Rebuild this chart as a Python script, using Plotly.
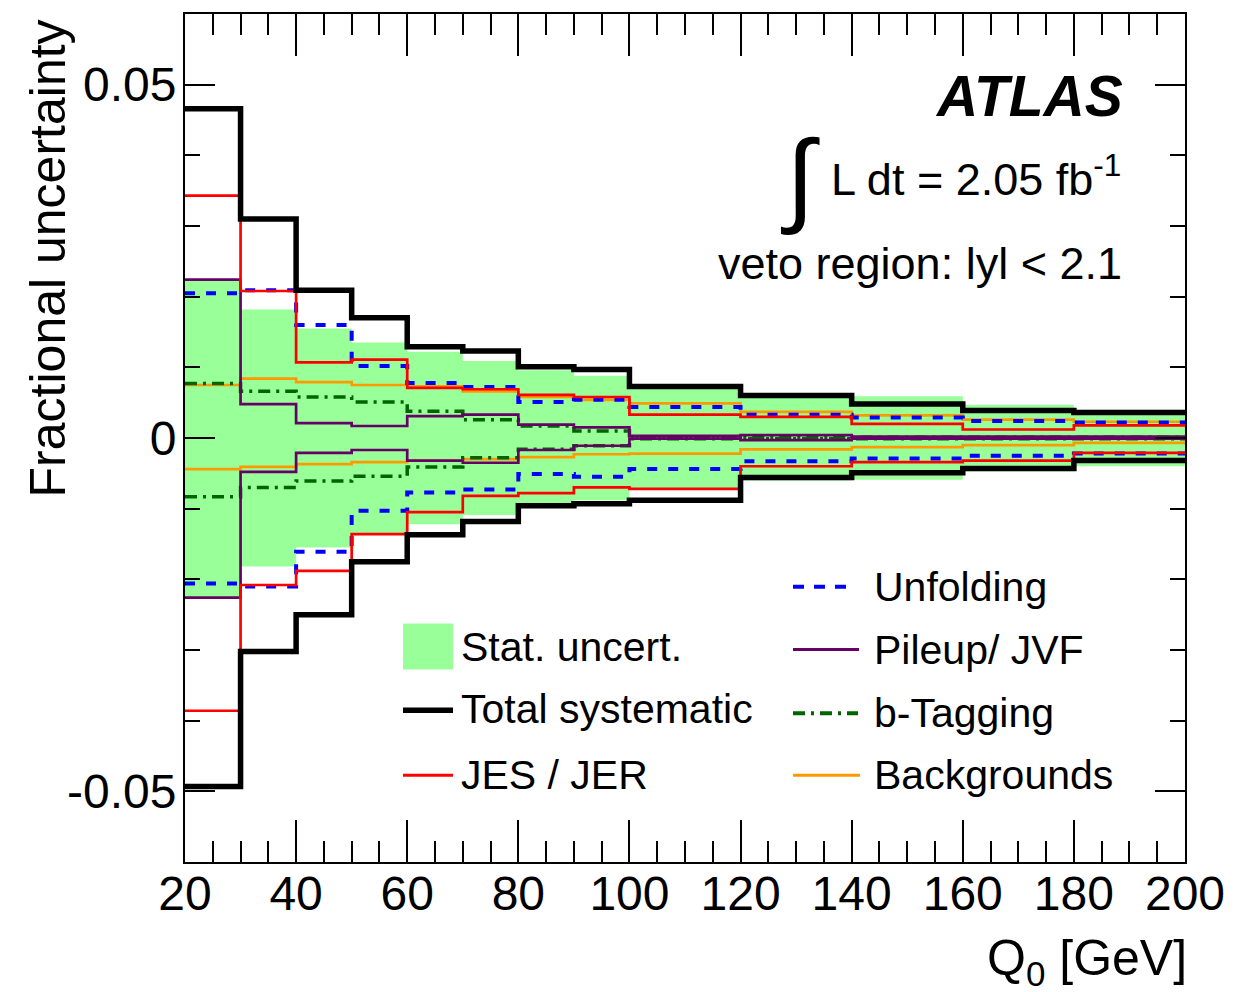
import plotly.graph_objects as go

# ---------------- data ----------------
edges = [20, 30, 40, 50, 60, 70, 80, 90, 100, 120, 140, 160, 180, 200]

stat = [0.0225, 0.0182, 0.0155, 0.0135, 0.0122, 0.0109, 0.0096, 0.0088, 0.0073, 0.0060, 0.0059, 0.0047, 0.0040]

total_up = [0.0466, 0.0310, 0.0209, 0.0170, 0.0129, 0.0123, 0.0101, 0.0097, 0.0073, 0.0060, 0.0048, 0.0039, 0.0036]
total_dn = [-0.0493, -0.0302, -0.0250, -0.0175, -0.0137, -0.0118, -0.0096, -0.0093, -0.0088, -0.0056, -0.0049, -0.0043, -0.0032]

jes_up = [0.0343, 0.0208, 0.0107, 0.0111, 0.0071, 0.0069, 0.0061, 0.0058, 0.0033, 0.0030, 0.0020, 0.0012, 0.0018]
jes_dn = [-0.0386, -0.0208, -0.0188, -0.0136, -0.0105, -0.0082, -0.0078, -0.0070, -0.0072, -0.0040, -0.0034, -0.0032, -0.0021]

unf_up = [0.0205, 0.0209, 0.0160, 0.0102, 0.0078, 0.0072, 0.0051, 0.0054, 0.0044, 0.0033, 0.0029, 0.0024, 0.0022]
unf_dn = [-0.0206, -0.0210, -0.0161, -0.0103, -0.0077, -0.0073, -0.0051, -0.0055, -0.0044, -0.0033, -0.0029, -0.0025, -0.0022]

pu_up = [0.0224, 0.0048, 0.0021, 0.0017, 0.0031, 0.0033, 0.0019, 0.0015, 0.0003, 0.0004, 0.0002, 0.0002, 0.0002]
pu_dn = [-0.0226, -0.0048, -0.0021, -0.0017, -0.0032, -0.0035, -0.0017, -0.0011, -0.0001, -0.0003, -0.0001, -0.0001, -0.0001]

btag_up = [0.0077, 0.0066, 0.0058, 0.0051, 0.0038, 0.0026, 0.0017, 0.0010, 0.0001, 0.0001, 0.0001, 0.0001, 0.0001]
btag_dn = [-0.0083, -0.0070, -0.0061, -0.0054, -0.0041, -0.0028, -0.0016, -0.0011, -0.0001, -0.0001, -0.0001, -0.0001, -0.0001]

bkg_up = [0.0075, 0.0084, 0.0079, 0.0075, 0.0073, 0.0066, 0.0058, 0.0054, 0.0049, 0.0037, 0.0032, 0.0026, 0.0023]
bkg_dn = [-0.0044, -0.0041, -0.0037, -0.0034, -0.0032, -0.0030, -0.0027, -0.0023, -0.0022, -0.0016, -0.0013, -0.0010, -0.0007]

ytick_vals = [-0.05, 0, 0.05]
ytick_text = ["-0.05", "0", "0.05"]

FONT = "Liberation Sans, Arial, Helvetica, sans-serif"

# ---------------- figure ----------------
W, H = 1254, 992
L, R, T, B = 185, 69, 12, 130
PW, PH = W - L - R, H - T - B


def px_x(px):
    return (px - L) / PW


def px_y(py):
    return (H - B - py) / PH


def step(vals):
    return list(vals) + [vals[-1]]


fig = go.Figure()

# stat band
fig.add_trace(go.Scatter(x=edges, y=step([-s for s in stat]), mode="lines",
                         line=dict(width=0, shape="hv"), showlegend=False,
                         hoverinfo="skip"))
fig.add_trace(go.Scatter(x=edges, y=step(stat), mode="lines",
                         line=dict(width=0, shape="hv"), fill="tonexty",
                         fillcolor="#99ff99", showlegend=False,
                         name="Stat. uncert."))

series = [
    ("Backgrounds", bkg_up, bkg_dn, "#ff9900", 2.7, "solid"),
    ("b-Tagging", btag_up, btag_dn, "#006400", 3.5, "12px,6px,3px,6px"),
    ("Pileup/ JVF", pu_up, pu_dn, "#660066", 2.7, "solid"),
    ("Unfolding", unf_up, unf_dn, "#0000ff", 4, "10px,11px"),
    ("JES / JER", jes_up, jes_dn, "#ff0000", 2.7, "solid"),
    ("Total systematic", total_up, total_dn, "#000000", 5.5, "solid"),
]
for name, up, dn, col, w, dash in series:
    for vals in (up, dn):
        fig.add_trace(go.Scatter(x=edges, y=step(vals), mode="lines",
                                 line=dict(color=col, width=w, dash=dash, shape="hv"),
                                 showlegend=False, name=name))

# ---------------- legend (drawn manually) ----------------
shapes = []
shapes.append(dict(type="rect", xref="paper", yref="paper",
                   x0=px_x(403), x1=px_x(453), y0=px_y(669), y1=px_y(623),
                   fillcolor="#99ff99", line=dict(width=0)))
leg_lines = [
    (403, 453, 710, "#000000", 5.5, "solid"),
    (403, 453, 775, "#ff0000", 3, "solid"),
    (793, 850, 586, "#0000ff", 4, "11px,10px"),
    (793, 859, 649, "#660066", 3, "solid"),
    (793, 858, 713, "#006400", 4, "12px,6px,3px,6px"),
    (793, 860, 775, "#ff9900", 3, "solid"),
]
for x0, x1, y, col, w, dash in leg_lines:
    shapes.append(dict(type="line", xref="paper", yref="paper",
                       x0=px_x(x0), x1=px_x(x1), y0=px_y(y), y1=px_y(y),
                       line=dict(color=col, width=w, dash=dash)))

annotations = []
leg_texts = [
    (459, 646, "Stat. uncert."),
    (459, 709, "Total systematic"),
    (459, 775, "JES / JER"),
    (872, 586, "Unfolding"),
    (872, 649, "Pileup/ JVF"),
    (872, 713, "b-Tagging"),
    (872, 775, "Backgrounds"),
]
for x, y, t in leg_texts:
    annotations.append(dict(text=t, xref="paper", yref="paper", x=px_x(x), y=px_y(y),
                            xanchor="left", yanchor="middle", showarrow=False,
                            font=dict(family=FONT, size=41, color="black")))

# ATLAS label and info
annotations.append(dict(text="<b><i>ATLAS</i></b>", xref="paper", yref="paper",
                        x=px_x(1125), y=px_y(94), xanchor="right", yanchor="middle",
                        showarrow=False, font=dict(family=FONT, size=57, color="black")))
annotations.append(dict(text="∫", xref="paper", yref="paper",
                        x=px_x(800), y=px_y(176), xanchor="center", yanchor="middle",
                        showarrow=False, font=dict(family=FONT, size=104, color="black")))
annotations.append(dict(text="L dt = 2.05 fb<sup>-1</sup>", xref="paper", yref="paper",
                        x=px_x(1123), y=px_y(174), xanchor="right", yanchor="middle",
                        showarrow=False, font=dict(family=FONT, size=45, color="black")))
annotations.append(dict(text="veto region: lyl < 2.1", xref="paper", yref="paper",
                        x=px_x(1124), y=px_y(262), xanchor="right", yanchor="middle",
                        showarrow=False, font=dict(family=FONT, size=45, color="black")))

# axis titles
annotations.append(dict(text="Q<sub>0</sub> [GeV]", xref="paper", yref="paper",
                        x=px_x(1189), y=px_y(962), xanchor="right", yanchor="middle",
                        showarrow=False, font=dict(family=FONT, size=50, color="black")))
annotations.append(dict(text="Fractional uncertainty", xref="paper", yref="paper",
                        x=px_x(48), y=px_y(257), xanchor="center", yanchor="middle",
                        textangle=-90, showarrow=False,
                        font=dict(family=FONT, size=50, color="black")))

fig.update_layout(
    width=W, height=H,
    margin=dict(l=L, r=R, t=T, b=B, pad=0),
    paper_bgcolor="white", plot_bgcolor="white",
    showlegend=False,
    shapes=shapes, annotations=annotations,
    font=dict(family=FONT, color="black"),
)

fig.update_xaxes(
    range=[20, 200], showgrid=False, zeroline=False,
    showline=True, linecolor="black", linewidth=2, mirror="allticks",
    ticks="inside", ticklen=42, tickwidth=2, tickcolor="black",
    tick0=20, dtick=20,
    tickfont=dict(family=FONT, size=48, color="black"),
    ticklabelstandoff=-12,
    minor=dict(ticks="inside", dtick=5, tick0=20, ticklen=21, tickwidth=2,
               tickcolor="black", showgrid=False),
)
fig.update_yaxes(
    range=[-0.06, 0.06], showgrid=False, zeroline=False,
    showline=True, linecolor="black", linewidth=2, mirror="allticks",
    ticks="inside", ticklen=30, tickwidth=2, tickcolor="black",
    tickmode="array", tickvals=ytick_vals, ticktext=ytick_text,
    tickfont=dict(family=FONT, size=48, color="black"),
    ticklabelstandoff=-3,
    minor=dict(ticks="inside", tickmode="linear", tick0=0, dtick=0.01, ticklen=15,
               tickwidth=2, tickcolor="black", showgrid=False),
)

fig.write_html("out.html")
